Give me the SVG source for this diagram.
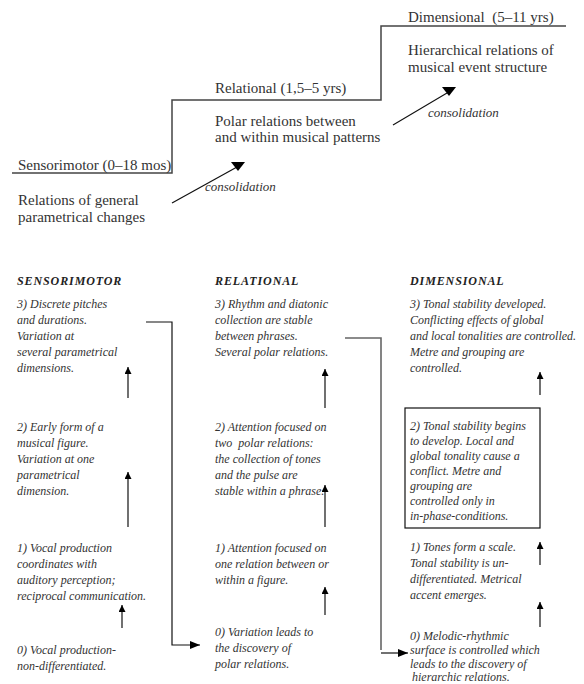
<svg xmlns="http://www.w3.org/2000/svg" width="584" height="684" viewBox="0 0 584 684">
<defs>
<style>
.t{font-family:"Liberation Serif","Times New Roman",serif;font-size:15px;fill:#333}
.c{font-family:"Liberation Serif","Times New Roman",serif;font-size:12px;font-style:italic;fill:#333}
.h{font-family:"Liberation Serif","Times New Roman",serif;font-size:12px;font-style:italic;font-weight:bold;fill:#222;letter-spacing:0.9px}
.con{font-family:"Liberation Serif","Times New Roman",serif;font-size:13px;font-style:italic;fill:#333}
.stair{fill:none;stroke:#444;stroke-width:1.5}
.ln{fill:none;stroke:#111;stroke-width:1.2}
.gl{fill:none;stroke:#666;stroke-width:1.6}
.box{fill:none;stroke:#111;stroke-width:1.2}
</style>
<marker id="ah" viewBox="0 0 10 10" refX="10" refY="5" markerWidth="7" markerHeight="7" markerUnits="userSpaceOnUse" orient="auto"><path d="M0,0 L10,5 L0,10 z" fill="#000"/></marker>
<marker id="ahr" viewBox="0 0 10 10" refX="10" refY="5" markerWidth="10" markerHeight="10" markerUnits="userSpaceOnUse" orient="auto"><path d="M0,1 L10,5 L0,9 z" fill="#000"/></marker>
</defs>

<g id="stages">
<path class="stair" d="M12,173 H172 V100 H381 V26 H566"/>
</g>

<g id="stage-sensorimotor">
<text class="t" x="18" y="170">Sensorimotor (0–18 mos)</text>
<text class="t" x="18" y="205">Relations of general</text>
<text class="t" x="18" y="222">parametrical changes</text>
</g>
<g id="stage-relational">
<text class="t" x="215" y="93">Relational (1,5–5 yrs)</text>
<text class="t" x="215" y="126">Polar relations between</text>
<text class="t" x="215" y="142">and within musical patterns</text>
</g>
<g id="stage-dimensional">
<text class="t" x="408" y="22" xml:space="preserve">Dimensional  (5–11 yrs)</text>
<text class="t" x="408" y="55">Hierarchical relations of</text>
<text class="t" x="408" y="72">musical event structure</text>
</g>

<g id="consolidation-1">
<line class="ln" x1="172" y1="203" x2="237" y2="167" stroke="#444"/>
<polygon points="231,162 245,162 238,171" fill="#000"/>
<text class="con" x="205" y="191">consolidation</text>
</g>
<g id="consolidation-2">
<line class="ln" x1="393" y1="125" x2="447" y2="93" stroke="#444"/>
<polygon points="442,87 456,87 449,96" fill="#000"/>
<text class="con" x="428" y="117">consolidation</text>
</g>

<g id="col-sensorimotor">
<text class="h" x="17" y="285">SENSORIMOTOR</text>
<g id="s3"><text class="c" x="17" y="308">3) Discrete pitches</text><text class="c" x="17" y="324">and durations.</text><text class="c" x="17" y="340">Variation at</text><text class="c" x="17" y="356">several parametrical</text><text class="c" x="17" y="372">dimensions.</text></g>
<g id="s2"><text class="c" x="17" y="431">2) Early form of a</text><text class="c" x="17" y="447">musical figure.</text><text class="c" x="17" y="463">Variation at one</text><text class="c" x="17" y="479">parametrical</text><text class="c" x="17" y="495">dimension.</text></g>
<g id="s1"><text class="c" x="17" y="552">1) Vocal production</text><text class="c" x="17" y="568">coordinates with</text><text class="c" x="17" y="584">auditory perception;</text><text class="c" x="17" y="600">reciprocal communication.</text></g>
<g id="s0"><text class="c" x="17" y="654">0) Vocal production-</text><text class="c" x="17" y="670">non-differentiated.</text></g>
</g>

<g id="col-relational">
<text class="h" x="215" y="285">RELATIONAL</text>
<g id="r3"><text class="c" x="215" y="308">3) Rhythm and diatonic</text><text class="c" x="215" y="324">collection are stable</text><text class="c" x="215" y="340">between phrases.</text><text class="c" x="215" y="356">Several polar relations.</text></g>
<g id="r2"><text class="c" x="215" y="431">2) Attention focused on</text><text class="c" x="215" y="447" xml:space="preserve">two  polar relations:</text><text class="c" x="215" y="463">the collection of tones</text><text class="c" x="215" y="479">and the pulse are</text><text class="c" x="215" y="495">stable within a phrase.</text></g>
<g id="r1"><text class="c" x="215" y="552">1) Attention focused on</text><text class="c" x="215" y="568">one relation between or</text><text class="c" x="215" y="584">within a figure.</text></g>
<g id="r0"><text class="c" x="215" y="636">0) Variation leads to</text><text class="c" x="215" y="652">the discovery of</text><text class="c" x="215" y="668">polar relations.</text></g>
</g>

<g id="col-dimensional">
<text class="h" x="410" y="285">DIMENSIONAL</text>
<g id="d3"><text class="c" x="410" y="308">3) Tonal stability developed.</text><text class="c" x="410" y="324">Conflicting effects of global</text><text class="c" x="410" y="340">and local tonalities are controlled.</text><text class="c" x="410" y="356">Metre and grouping are</text><text class="c" x="410" y="372">controlled.</text></g>
<g id="d2"><rect class="box" x="405" y="408" width="135" height="120"/><text class="c" x="410" y="430">2) Tonal stability begins</text><text class="c" x="410" y="445">to develop. Local and</text><text class="c" x="410" y="460">global tonality cause a</text><text class="c" x="410" y="475">conflict. Metre and</text><text class="c" x="410" y="490">grouping are</text><text class="c" x="410" y="505">controlled only in</text><text class="c" x="410" y="520">in-phase-conditions.</text></g>
<g id="d1"><text class="c" x="410" y="551">1) Tones form a scale.</text><text class="c" x="410" y="567">Tonal stability is un-</text><text class="c" x="410" y="583">differentiated. Metrical</text><text class="c" x="410" y="599">accent emerges.</text></g>
<g id="d0"><text class="c" x="410" y="640">0) Melodic-rhythmic</text><text class="c" x="410" y="654">surface is controlled which</text><text class="c" x="410" y="668">leads to the discovery of</text><text class="c" x="412" y="681">hierarchic relations.</text></g>
</g>

<g id="connectors">
<line class="ln" x1="128" y1="398" x2="128" y2="367" marker-end="url(#ah)"/>
<line class="ln" x1="128" y1="527" x2="128" y2="472" marker-end="url(#ah)"/>
<line class="ln" x1="122" y1="628" x2="122" y2="605" marker-end="url(#ah)"/>
<line class="ln" x1="325" y1="408" x2="325" y2="369" marker-end="url(#ah)"/>
<line class="ln" x1="325" y1="527" x2="325" y2="485" marker-end="url(#ah)"/>
<line class="ln" x1="325" y1="615" x2="325" y2="587" marker-end="url(#ah)"/>
<line class="ln" x1="540" y1="395" x2="540" y2="372" marker-end="url(#ah)"/>
<line class="ln" x1="540" y1="565" x2="540" y2="542" marker-end="url(#ah)"/>
<line class="ln" x1="540" y1="627" x2="540" y2="602" marker-end="url(#ah)"/>
<path class="ln" d="M146,322 H172 V645 H200" marker-end="url(#ahr)"/>
<path class="gl" d="M345,338 H381 V650"/>
<line class="ln" x1="381" y1="653" x2="408" y2="653" marker-end="url(#ahr)"/>
</g>
</svg>
